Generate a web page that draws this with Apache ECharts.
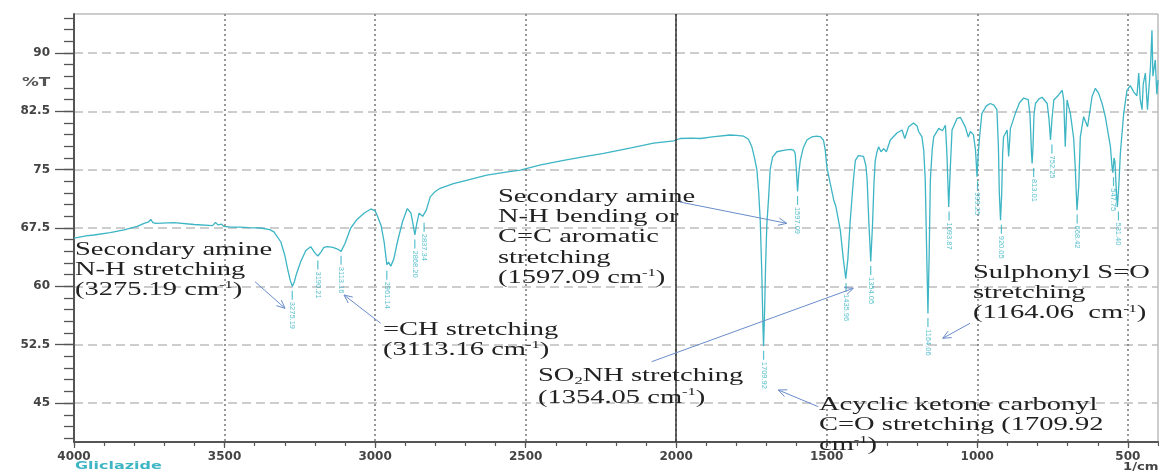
<!DOCTYPE html>
<html>
<head>
<meta charset="utf-8">
<script src="https://cdn.jsdelivr.net/npm/echarts@6.0.0/dist/echarts.min.js"></script>
<style>
  html, body { margin: 0; padding: 0; background: #fff; }
  #chart { width: 1159px; height: 472px; }
</style>
</head>
<body>
<div id="chart"></div>
<script>
// spectrum (wavenumber in 1/cm, transmittance in %T)
const wavenumber = [
  4000, 3960, 3934, 3880, 3834, 3790, 3767, 3752, 3745, 3738, 3728, 3668, 3601, 3540, 3530, 3522, 3510, 3502, 3480, 3449,
  3420, 3380, 3350, 3336, 3313, 3300, 3291, 3282, 3275, 3268, 3262, 3247, 3230, 3214, 3200, 3190, 3180, 3170, 3158, 3140,
  3125, 3113, 3100, 3081, 3060, 3037, 3014, 3000, 2992, 2980, 2970, 2961, 2955, 2948, 2938, 2926, 2909, 2893, 2881, 2875,
  2868, 2862, 2854, 2848, 2842, 2837, 2830, 2817, 2800, 2784, 2740, 2700, 2629, 2560, 2518, 2450, 2374, 2300, 2241, 2150,
  2075, 2009, 1987, 1950, 1920, 1880, 1821, 1800, 1776, 1760, 1749, 1740, 1732, 1726, 1721, 1716, 1712, 1710, 1707, 1703,
  1699, 1693, 1688, 1680, 1666, 1640, 1621, 1610, 1605, 1601, 1597, 1593, 1588, 1578, 1566, 1550, 1533, 1520, 1511, 1505,
  1500, 1490, 1477, 1470, 1455, 1445, 1437, 1430, 1422, 1412, 1405, 1395, 1389, 1378, 1370, 1366, 1360, 1354, 1348, 1343,
  1339, 1333, 1328, 1320, 1311, 1302, 1289, 1267, 1250, 1241, 1228, 1212, 1200, 1195, 1184, 1178, 1173, 1168, 1164, 1160,
  1156, 1150, 1145, 1128, 1116, 1106, 1101, 1095, 1090, 1084, 1067, 1056, 1040, 1030, 1023, 1013, 1006, 1001, 997, 993,
  985, 970, 957, 945, 935, 930, 927, 923, 919, 916, 913, 901, 896, 890, 874, 860, 846, 831, 825, 820,
  818, 815, 812, 807, 795, 785, 768, 762, 757, 752, 746, 730, 718, 713, 708, 702, 691, 680, 675, 669,
  663, 658, 647, 634, 619, 608, 597, 585, 575, 558, 553, 550, 546, 543, 538, 535, 530, 525, 514, 503,
  492, 481, 470, 464, 459, 453, 449, 442, 435, 430, 425, 420, 417, 414, 409, 404, 400
];
const transmittance = [
  66.2, 66.5, 66.6, 66.9, 67.25, 67.7, 68.1, 68.3, 68.6, 68.2, 68.1, 68.2, 67.95, 67.8, 68.2, 67.9, 68.0, 67.7, 67.6, 67.6,
  67.55, 67.5, 67.3, 67.0, 65.7, 64.0, 62.3, 60.8, 60.0, 60.6, 61.5, 63.2, 64.6, 65.1, 64.3, 63.9, 64.4, 65.0, 65.1, 65.0,
  64.8, 64.5, 65.5, 67.5, 68.6, 69.4, 69.95, 69.7, 69.0, 67.8, 65.7, 62.8, 63.1, 62.6, 63.5, 65.7, 68.3, 70.0, 69.4, 68.2,
  66.6, 68.0, 69.4, 69.5, 69.0, 68.75, 69.8, 71.5, 72.2, 72.6, 73.2, 73.6, 74.3, 74.7, 74.95, 75.6, 76.2, 76.7, 77.1, 77.8,
  78.4, 78.7, 79.0, 79.05, 79.0, 79.2, 79.45, 79.4, 79.3, 78.9, 77.95, 76.5, 74.95, 72.0, 68.5, 62.0, 55.0, 52.3, 56.0, 63.0,
  68.0, 71.5, 75.0, 76.6, 77.3, 77.5, 77.6, 77.5, 77.1, 75.0, 72.2, 74.5, 76.2, 77.8, 78.8, 79.2, 79.3, 79.2, 78.8, 77.5,
  75.4, 73.5, 71.1, 70.3, 67.2, 63.5, 61.0, 63.5, 68.5, 73.5, 76.2, 76.8, 76.9, 76.7, 75.5, 73.7, 68.0, 63.2, 68.0, 73.5,
  76.2, 77.3, 77.95, 77.3, 77.7, 77.3, 78.8, 79.7, 80.1, 79.0, 80.5, 81.0, 80.6, 79.9, 79.2, 77.5, 73.7, 64.0, 56.5, 64.0,
  73.7, 77.5, 79.2, 80.3, 80.0, 80.7, 77.0, 70.2, 75.0, 80.1, 81.6, 81.7, 80.5, 79.2, 79.9, 79.5, 77.5, 74.1, 77.0, 79.0,
  82.2, 83.2, 83.5, 83.3, 82.7, 77.95, 72.0, 68.5, 72.0, 77.0, 79.2, 80.1, 76.7, 80.3, 82.2, 83.6, 84.2, 84.0, 82.0, 77.0,
  75.8, 78.0, 82.0, 83.5, 84.1, 84.3, 83.5, 81.5, 78.8, 81.5, 83.95, 84.6, 85.2, 83.9, 77.95, 83.95, 82.2, 79.0, 75.4, 69.8,
  73.0, 79.2, 81.8, 80.5, 84.4, 85.45, 84.8, 83.4, 81.8, 77.95, 75.5, 74.6, 76.5, 76.0, 72.0, 70.2, 73.0, 77.1, 82.2, 85.2,
  85.8, 85.0, 84.5, 87.4, 84.0, 82.7, 86.0, 87.4, 82.7, 85.5, 88.2, 92.9, 87.0, 86.9, 89.1, 84.7, 86.5
];

// labelled peaks
const peakWavenumber = [3275.19, 3190.21, 3113.16, 2961.14, 2868.20, 2837.34, 1709.92, 1597.09, 1435.96, 1354.05,
  1164.06, 1093.87, 999.25, 920.05, 813.01, 752.25, 668.42, 547.75, 531.40];
const peakTransmittance = [60.0, 63.9, 64.5, 62.6, 66.6, 68.75, 52.3, 72.2, 61.0, 63.2,
  56.5, 70.2, 74.1, 68.5, 75.8, 78.8, 69.8, 74.6, 70.2];

// tick labels
const yTickLabels = [45, 52.5, 60, 67.5, 75, 82.5, 90];
const xTickLabels = [4000, 3500, 3000, 2500, 2000, 1500, 1000, 500];

const teal = '#3db5c4';
const axisGrey = '#555';

let myCharts = echarts.init(document.getElementById('chart'));

// annotation text, drawn a bit wider like the scanned figure
function note(x, y, lines, lh) {
  return {
    type: 'text', x: x, y: y, scaleX: 1.5, z: 100,
    style: {
      text: lines.join('\n'),
      fontFamily: 'Liberation Serif', fontSize: 19, lineHeight: lh,
      fill: '#222', verticalAlign: 'top', align: 'left',
      rich: {
        sup: { fontFamily: 'Liberation Serif', fontSize: 11, lineHeight: lh, verticalAlign: 'top', fill: '#222' },
        sub: { fontFamily: 'Liberation Serif', fontSize: 11, lineHeight: lh, verticalAlign: 'bottom', fill: '#222' }
      }
    }
  };
}
function arrow(x1, y1, x2, y2) {
  const a = Math.atan2(y2 - y1, x2 - x1), h = 9, s = 0.42;
  return [
    { type: 'line', z: 100, shape: { x1: x1, y1: y1, x2: x2, y2: y2 }, style: { stroke: '#6a8ccb', lineWidth: 1 } },
    { type: 'polyline', z: 100,
      shape: { points: [[x2 - h * Math.cos(a - s), y2 - h * Math.sin(a - s)], [x2, y2], [x2 - h * Math.cos(a + s), y2 - h * Math.sin(a + s)]] },
      style: { stroke: '#6a8ccb', lineWidth: 1, fill: null } }
  ];
}

let option = {
  animation: false,
  backgroundColor: '#fff',
  grid: [
    // main plot box
    { left: 74, right: 1, top: 14, bottom: 30, show: true, borderColor: '#9a9a9a', borderWidth: 1 },
    // minor y ticks (every 1.5)
    { left: 74, right: 1, top: 17.9, bottom: 33.9 },
    // labelled y ticks 45..90
    { left: 74, right: 1, top: 52.9, bottom: 68.9 },
    // labelled x ticks 4000..500
    { left: 74, right: 31.2, top: 14, bottom: 30 }
  ],
  xAxis: [
    { gridIndex: 0, type: 'value', inverse: true, min: 400, max: 4000, interval: 100,
      axisLine: { show: true, lineStyle: { color: axisGrey, width: 2 } },
      axisTick: { show: true, length: 4, lineStyle: { color: axisGrey, width: 1.2 } },
      axisLabel: { show: false }, splitLine: { show: false } },
    { gridIndex: 1, type: 'value', inverse: true, min: 400, max: 4000, show: false },
    { gridIndex: 2, type: 'value', inverse: true, min: 400, max: 4000, show: false },
    { gridIndex: 3, type: 'value', inverse: true, min: xTickLabels[xTickLabels.length - 1], max: xTickLabels[0], interval: 500,
      axisLine: { show: false },
      axisTick: { show: true, length: 6, lineStyle: { color: axisGrey, width: 1.2 } },
      axisLabel: { show: true, margin: 9, color: '#444', fontFamily: 'DejaVu Sans', fontWeight: 'bold', fontSize: 12,
        formatter: v => xTickLabels.indexOf(v) >= 0 ? String(v) : '' },
      splitLine: { show: true, lineStyle: { type: [2, 3], color: '#777', width: 1.5 } } }
  ],
  yAxis: [
    { gridIndex: 0, type: 'value', min: 40, max: 95,
      axisLine: { show: true, lineStyle: { color: axisGrey, width: 2 } },
      axisTick: { show: false }, axisLabel: { show: false }, splitLine: { show: false } },
    { gridIndex: 1, type: 'value', min: 40.5, max: 94.5, interval: 1.5,
      axisLine: { show: false },
      axisTick: { show: true, length: 10, lineStyle: { color: axisGrey, width: 1.3 } },
      axisLabel: { show: false }, splitLine: { show: false } },
    { gridIndex: 2, type: 'value', min: yTickLabels[0], max: yTickLabels[yTickLabels.length - 1], interval: 7.5,
      axisLine: { show: false },
      axisTick: { show: true, length: 19, lineStyle: { color: axisGrey, width: 1.3 } },
      axisLabel: { show: true, margin: 24, color: '#444', fontFamily: 'DejaVu Sans', fontWeight: 'bold', fontSize: 12,
        formatter: v => String(v) },
      splitLine: { show: true, lineStyle: { type: [9, 5], color: '#bdbdbd', width: 1.5 } } },
    { gridIndex: 3, type: 'value', min: 40, max: 95, show: false }
  ],
  series: [
    {
      name: 'Gliclazide', type: 'line', xAxisIndex: 0, yAxisIndex: 0, z: 3,
      data: wavenumber.map((w, i) => [w, transmittance[i]]),
      symbol: 'none', smooth: false,
      lineStyle: { color: teal, width: 1.3 },
      markLine: {
        silent: true, symbol: 'none', label: { show: false },
        lineStyle: { color: '#333', width: 1.5, type: 'solid' },
        data: [{ xAxis: 2000 }]
      }
    },
    {
      name: 'peaks', type: 'scatter', xAxisIndex: 0, yAxisIndex: 0, z: 4,
      data: peakWavenumber.map((w, i) => [w, peakTransmittance[i]]),
      symbol: 'rect', symbolSize: [1.2, 9], symbolOffset: [0, 9],
      itemStyle: { color: '#2fb0c0' },
      label: {
        show: true, position: 'bottom', distance: 2, rotate: -90, align: 'left', verticalAlign: 'middle',
        fontFamily: 'Liberation Sans', fontSize: 7.5, color: '#2fb0c0',
        formatter: p => p.value[0].toFixed(2)
      }
    }
  ],
  graphic: {
    elements: [
      note(75, 240, ['Secondary amine', 'N-H stretching', '(3275.19 cm{sup|-1})'], 20),
      note(383, 320, ['=CH stretching', '(3113.16 cm{sup|-1})'], 20),
      note(498, 186.5, ['Secondary amine', 'N-H bending or', 'C=C aromatic', 'stretching', '(1597.09 cm{sup|-1})'], 20.4),
      note(538, 365, ['SO{sub|2}NH stretching', '(1354.05 cm{sup|-1})'], 22),
      note(973, 263.3, ['Sulphonyl S=O', 'stretching', '(1164.06  cm{sup|-1})'], 20),
      note(819, 395, ['Acyclic ketone carbonyl', 'C=O stretching (1709.92', 'cm{sup|-1})'], 20),
      ...arrow(255, 281.7, 285, 308.3),
      ...arrow(380.7, 323.3, 344, 295),
      ...arrow(680, 202, 786.7, 223.3),
      ...arrow(651.7, 361.7, 853.3, 288.3),
      ...arrow(970, 323.3, 942.7, 338.3),
      ...arrow(818.3, 406.7, 778.3, 390),
      { type: 'text', x: 22, y: 83.3, scaleX: 1.4, style: { text: '%T', fontFamily: 'DejaVu Sans', fontWeight: 'bold', fontSize: 12, fill: '#555', verticalAlign: 'middle' } },
      { type: 'text', x: 75, y: 466, scaleX: 1.45, style: { text: 'Gliclazide', fontFamily: 'DejaVu Sans', fontWeight: 'bold', fontSize: 11, fill: teal, verticalAlign: 'middle' } },
      { type: 'text', x: 1123, y: 467, scaleX: 1.2, style: { text: '1/cm', fontFamily: 'DejaVu Sans', fontWeight: 'bold', fontSize: 11, fill: '#444', verticalAlign: 'middle' } }
    ]
  }
};

myCharts.setOption(option);
window.addEventListener('resize', () => { myCharts.resize(); });
</script>
</body>
</html>
